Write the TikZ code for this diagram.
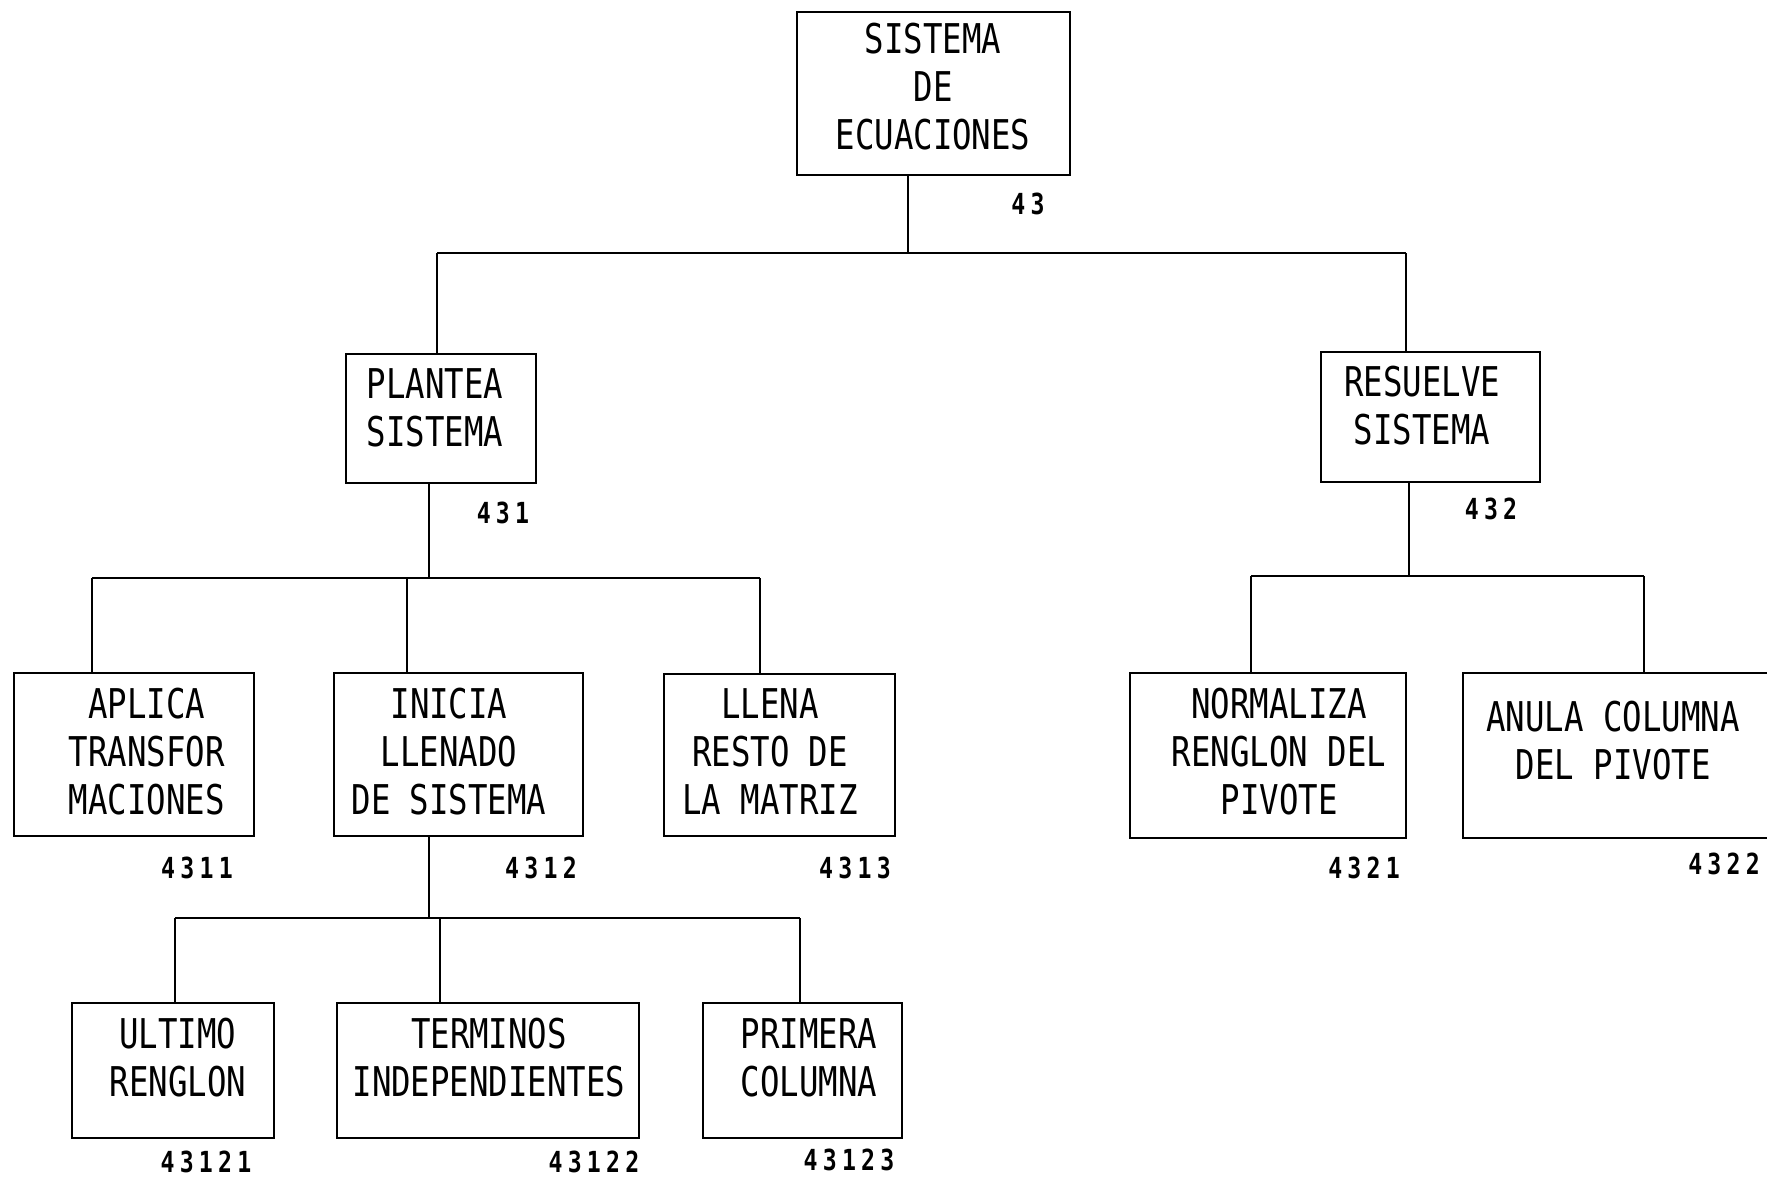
\documentclass[tikz,border=0pt]{standalone}
\usepackage{fontspec}
\newfontfamily\tw[FakeStretch=0.79]{DejaVu Sans Mono}
\newfontfamily\lb[FakeStretch=0.8,LetterSpace=18]{DejaVu Sans Mono Bold}
\begin{document}
\begin{tikzpicture}[x=1pt,y=-1pt,
  box/.style={draw,line width=2.3pt,inner sep=0pt},
  txt/.style={align=center,inner sep=0pt,font=\tw\fontsize{41}{48}\selectfont},
  num/.style={inner sep=0pt,font=\lb\fontsize{29}{31}\selectfont},
  conn/.style={line width=2.3pt}]
\useasboundingbox (0,0) rectangle (1767,1180);
% boxes
\node[box,minimum width=273pt,minimum height=163pt] (root) at (933.5,93.5) {};
\node[txt] (troot) at (933,87) {SISTEMA\\DE\\ECUACIONES};
\node[num] (n43) at (1028,204) {43};

\node[box,minimum width=190pt,minimum height=129pt] (pl) at (441,418.5) {};
\node[txt] (tpl) at (435,408) {PLANTEA\\SISTEMA};
\node[num] (n431) at (503,513) {431};

\node[box,minimum width=219pt,minimum height=130pt] (re) at (1430.5,417) {};
\node[txt] (tre) at (1422,406) {RESUELVE\\SISTEMA};
\node[num] (n432) at (1491,509) {432};

\node[box,minimum width=240pt,minimum height=163pt] (ap) at (134,754.5) {};
\node[txt] (tap) at (147,752) {APLICA\\TRANSFOR\\MACIONES};
\node[num] (n4311) at (197,868) {4311};

\node[box,minimum width=249pt,minimum height=163pt] (in) at (458.5,754.5) {};
\node[txt] (tin) at (449,752) {INICIA\\LLENADO\\DE SISTEMA};
\node[num] (n4312) at (541,868) {4312};

\node[box,minimum width=231pt,minimum height=162pt] (ll) at (779.5,755) {};
\node[txt] (tll) at (770,752) {LLENA\\RESTO DE\\LA MATRIZ};
\node[num] (n4313) at (855,868) {4313};

\node[box,minimum width=276pt,minimum height=165pt] (no) at (1268,755.5) {};
\node[txt] (tno) at (1279,752) {NORMALIZA\\RENGLON DEL\\PIVOTE};
\node[num] (n4321) at (1364,868) {4321};

\node[box,minimum width=320pt,minimum height=165pt] (an) at (1623,755.5) {};
\node[txt] (tan) at (1613,741) {ANULA COLUMNA\\DEL PIVOTE};
\node[num] (n4322) at (1724,864) {4322};

\node[box,minimum width=202pt,minimum height=135pt] (ul) at (173,1070.5) {};
\node[txt] (tul) at (178,1058) {ULTIMO\\RENGLON};
\node[num] (n43121) at (206,1162) {43121};

\node[box,minimum width=302pt,minimum height=135pt] (te) at (488,1070.5) {};
\node[txt] (tte) at (489,1058) {TERMINOS\\INDEPENDIENTES};
\node[num] (n43122) at (594,1162) {43122};

\node[box,minimum width=199pt,minimum height=135pt] (pr) at (802.5,1070.5) {};
\node[txt] (tpr) at (809,1058) {PRIMERA\\COLUMNA};
\node[num] (n43123) at (849,1160) {43123};

% bus coordinates
\coordinate (b0) at (908,253);
\coordinate (b0l) at (437,253);
\coordinate (b0r) at (1406,253);
\coordinate (b1) at (429,578);
\coordinate (b1l) at (92,578);
\coordinate (b1m) at (407,578);
\coordinate (b1r) at (760,578);
\coordinate (b2) at (1409,576);
\coordinate (b2l) at (1251,576);
\coordinate (b2r) at (1644,576);
\coordinate (b3) at (429,918);
\coordinate (b3l) at (175,918);
\coordinate (b3m) at (440,918);
\coordinate (b3r) at (800,918);

% connectors
\draw[conn] (root.south -| b0) -- (b0);
\draw[conn] (b0l) -- (b0r);
\draw[conn] (b0l) -- (b0l |- pl.north);
\draw[conn] (b0r) -- (b0r |- re.north);

\draw[conn] (pl.south -| b1) -- (b1);
\draw[conn] (b1l) -- (b1r);
\draw[conn] (b1l) -- (b1l |- ap.north);
\draw[conn] (b1m) -- (b1m |- in.north);
\draw[conn] (b1r) -- (b1r |- ll.north);

\draw[conn] (re.south -| b2) -- (b2);
\draw[conn] (b2l) -- (b2r);
\draw[conn] (b2l) -- (b2l |- no.north);
\draw[conn] (b2r) -- (b2r |- an.north);

\draw[conn] (in.south -| b3) -- (b3);
\draw[conn] (b3l) -- (b3r);
\draw[conn] (b3l) -- (b3l |- ul.north);
\draw[conn] (b3m) -- (b3m |- te.north);
\draw[conn] (b3r) -- (b3r |- pr.north);
\end{tikzpicture}
\end{document}
